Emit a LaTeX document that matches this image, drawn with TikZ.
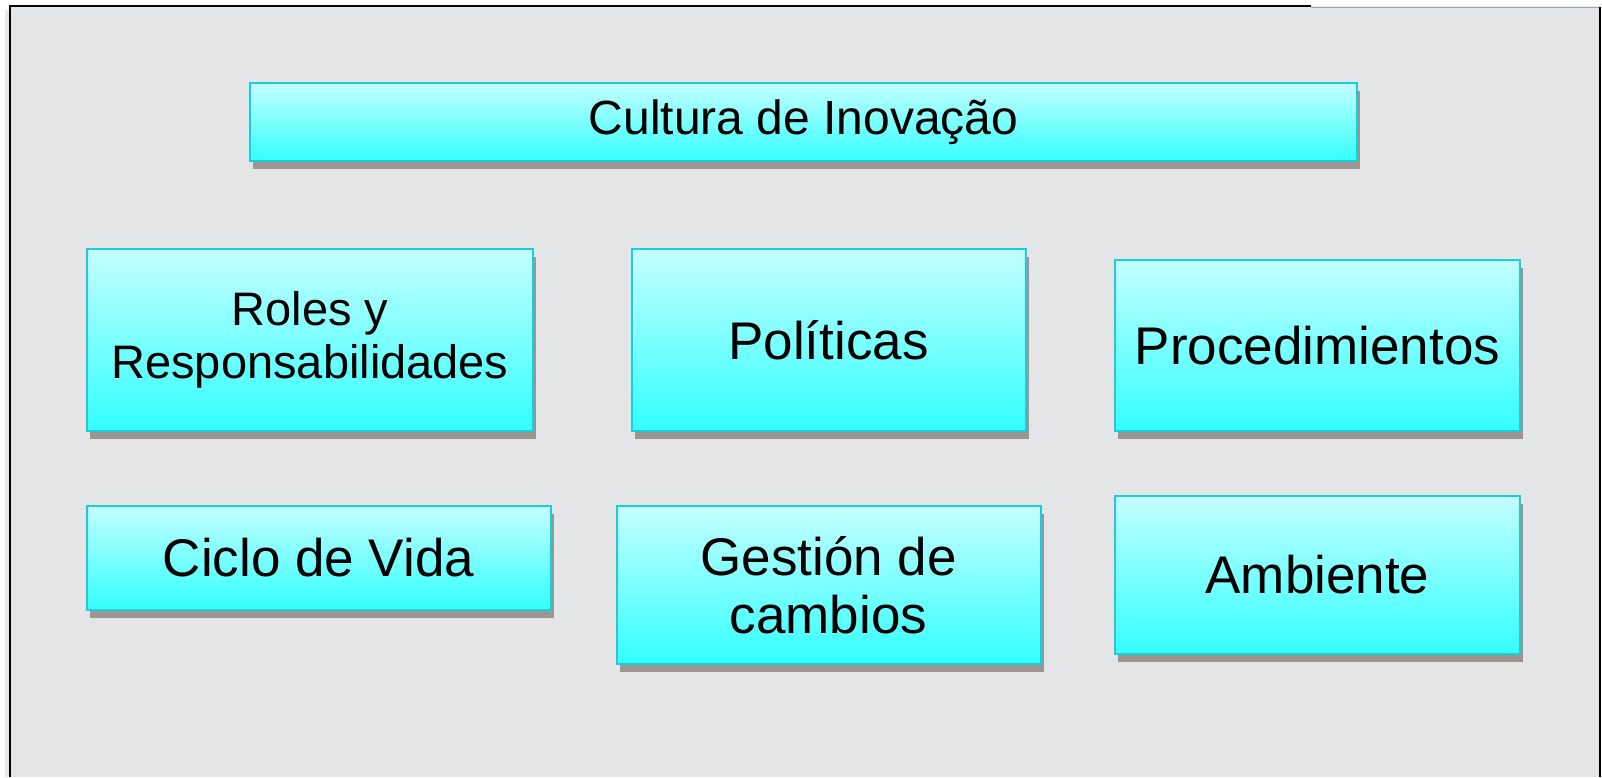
\documentclass[tikz,border=0pt]{standalone}
\usepackage{fontspec}
\setmainfont{Liberation Sans}
\usepackage[HTML]{xcolor}
\usetikzlibrary{shadows}

\definecolor{fondo}{HTML}{E4E5E7}
\definecolor{borde}{HTML}{1CCCD8}
\definecolor{arriba}{HTML}{C4FFFF}
\definecolor{abajo}{HTML}{33FFFF}
\definecolor{sombra}{HTML}{8A817C}

\tikzset{
  bloque/.style={draw=borde, line width=2pt, top color=arriba, bottom color=abajo,
    inner sep=0pt, align=center, font=\fontsize{53}{58}\selectfont,
    drop shadow={shadow xshift=3pt, shadow yshift=-8pt, fill=sombra, opacity=0.8}},
  marco/.style={line width=2pt}
}

\begin{document}
\begin{tikzpicture}[x=1pt, y=-1pt]
\useasboundingbox (0,0) rectangle (1602,777);
% background and frame
\fill[white] (0,0) rectangle (1602,777);
\fill[fondo] (10,6) rectangle (1600,777);
\fill[black!15, opacity=0.6] (5,10) rectangle (9,777);
\draw[marco] (10,777) -- (10,6) -- (1311,6);
\draw[gray!70, line width=1pt] (1311,7) -- (1600,7);
\draw[marco] (1600,7) -- (1600,777);

% nodes
\node[bloque, minimum width=1107, minimum height=78, font=\fontsize{48}{52}\selectfont]
  (cultura) at (803.5,122) {Cultura de Inovação};
\node[bloque, minimum width=446, minimum height=182, font=\fontsize{47}{53}\selectfont]
  (roles) at (310,340) {Roles y\\Responsabilidades};
\node[bloque, minimum width=394, minimum height=182] (politicas) at (828.5,340) {Políticas};
\node[bloque, minimum width=405, minimum height=171] (proced) at (1317.5,345.5) {Procedimientos};
\node[bloque, minimum width=464, minimum height=104] (ciclo) at (318.5,557.5) {Ciclo de Vida};
\node[bloque, minimum width=424, minimum height=158] (gestion) at (828.5,585) {Gestión de\\cambios};
\node[bloque, minimum width=405, minimum height=158] (ambiente) at (1317.5,575) {Ambiente};
\end{tikzpicture}
\end{document}
